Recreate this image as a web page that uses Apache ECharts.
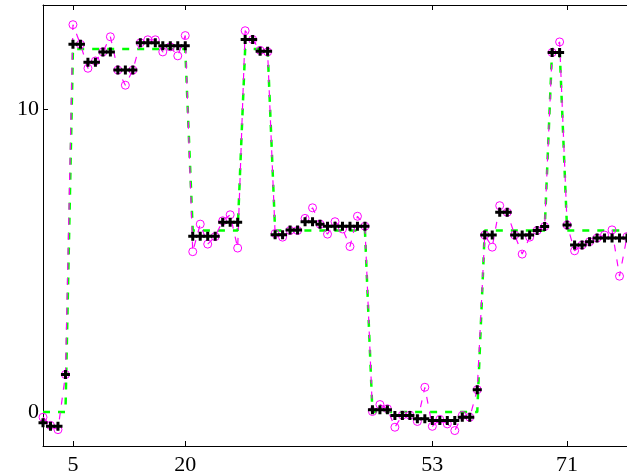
<!DOCTYPE html>
<html>
<head>
<meta charset="utf-8">
<script src="https://cdn.jsdelivr.net/npm/echarts@6/dist/echarts.min.js"></script>
<style>
  html, body { margin: 0; padding: 0; background: #fff; }
  #main { width: 627px; height: 476px; }
</style>
</head>
<body>
<div id="main"></div>
<script>
// sample index 1..79
var xs = [];
for (var i = 1; i <= 79; i++) xs.push(i);

// true piecewise-constant signal (green dashed)
var truth = [0, 0, 0, 0,
  12, 12, 12, 12, 12, 12, 12, 12, 12, 12, 12, 12, 12, 12, 12, 12,
  6, 6, 6, 6, 6, 6, 6,
  12, 12, 12, 12,
  6, 6, 6, 6, 6, 6, 6, 6, 6, 6, 6, 6, 6,
  0, 0, 0, 0, 0, 0, 0, 0, 0, 0, 0, 0, 0, 0, 0,
  6, 6, 6, 6, 6, 6, 6, 6, 6,
  12, 12,
  6, 6, 6, 6, 6, 6, 6, 6, 6];

// noisy observations (magenta circles)
var observed = [-0.17, -0.44, -0.58, 1.24,
  12.8, 12.15, 11.36, 11.6, 11.9, 12.4, 11.3, 10.8, 11.3, 12.2, 12.3, 12.3, 11.9, 12.07, 11.77, 12.44,
  5.3, 6.21, 5.55, 5.8, 6.32, 6.52, 5.42,
  12.6, 12.31, 11.95, 11.9,
  5.9, 5.78, 6.0, 6.0, 6.4, 6.75, 6.21, 5.88, 6.29, 6.05, 5.47, 6.47, 6.14,
  0.02, 0.25, 0.11, -0.5, -0.1, -0.1, -0.31, 0.82, -0.47, -0.24, -0.39, -0.61, -0.11, -0.17, 0.74,
  5.85, 5.45, 6.82, 6.6, 5.85, 5.22, 5.78, 6.0, 6.13,
  11.88, 12.23,
  6.18, 5.33, 5.52, 5.63, 5.75, 5.85, 6.02, 4.49, 5.8];

// reconstruction (black pluses)
var estimate = [-0.35, -0.47, -0.47, 1.24,
  12.15, 12.15, 11.56, 11.56, 11.9, 11.9, 11.3, 11.3, 11.3, 12.2, 12.2, 12.2, 12.1, 12.1, 12.1, 12.1,
  5.81, 5.81, 5.81, 5.81, 6.27, 6.27, 6.27,
  12.31, 12.31, 11.92, 11.92,
  5.86, 5.86, 6.02, 6.02, 6.29, 6.29, 6.21, 6.14, 6.14, 6.14, 6.14, 6.14, 6.14,
  0.08, 0.08, 0.08, -0.11, -0.11, -0.11, -0.22, -0.22, -0.28, -0.28, -0.28, -0.28, -0.17, -0.17, 0.74,
  5.85, 5.85, 6.6, 6.6, 5.85, 5.85, 5.85, 6.0, 6.13,
  11.88, 11.88,
  6.18, 5.52, 5.52, 5.63, 5.75, 5.75, 5.75, 5.75, 5.75];

var xTicks = [5, 20, 53, 71];
var yTicks = [0, 10];

function pairs(vals) {
  return xs.map(function (x, i) { return [x, vals[i]]; });
}

var chartDom = document.getElementById('main');
var myChart = echarts.init(chartDom);
var serif = '"Liberation Serif", "DejaVu Serif", serif';

var option = {
  animation: false,
  backgroundColor: '#fff',
  grid: { left: 43, top: 5, width: 584, height: 442 },
  xAxis: [
    {
      type: 'value', position: 'bottom', min: 1, max: 79,
      axisLine: { onZero: false, lineStyle: { color: '#000', width: 1 } },
      axisTick: { inside: true, length: 5, customValues: xTicks, lineStyle: { color: '#000' } },
      axisLabel: { customValues: xTicks, color: '#000', fontFamily: serif, fontSize: 22, margin: 8 },
      splitLine: { show: false }
    },
    {
      type: 'value', position: 'top', min: 1, max: 79,
      axisLine: { onZero: false, lineStyle: { color: '#000', width: 1 } },
      axisTick: { inside: true, length: 5, customValues: xTicks, lineStyle: { color: '#000' } },
      axisLabel: { show: false },
      splitLine: { show: false }
    }
  ],
  yAxis: {
    type: 'value', min: -1.12, max: 13.45,
    axisLine: { show: true, onZero: false, lineStyle: { color: '#000', width: 1 } },
    axisTick: { show: true, inside: true, length: 5, customValues: yTicks, lineStyle: { color: '#000' } },
    axisLabel: { customValues: yTicks, color: '#000', fontFamily: serif, fontSize: 22, margin: 4, padding: [6, 0, 0, 0] },
    splitLine: { show: false }
  },
  series: [
    {
      name: 'truth', type: 'line', data: pairs(truth),
      showSymbol: false,
      lineStyle: { color: '#00ff00', width: 2.5, type: [7, 8] },
      z: 2
    },
    {
      name: 'observed', type: 'line', data: pairs(observed),
      symbol: 'circle', symbolSize: 8, showAllSymbol: true,
      itemStyle: { color: 'rgba(0,0,0,0)', borderColor: '#ff00ff', borderWidth: 1 },
      lineStyle: { color: '#ff00ff', width: 1.2, type: [7, 8] },
      z: 3
    },
    {
      name: 'estimate', type: 'scatter', data: pairs(estimate),
      symbol: 'path://M3,0H6V3H9V6H6V9H3V6H0V3H3Z', symbolSize: 9,
      itemStyle: { color: '#000', opacity: 1 },
      z: 4
    }
  ]
};

option && myChart.setOption(option);
</script>
</body>
</html>
